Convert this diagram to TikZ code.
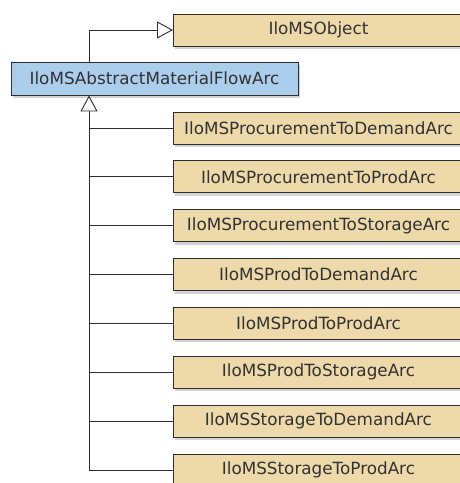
\documentclass[tikz,border=0pt]{standalone}
\usepackage{fontspec}
\setsansfont{DejaVu Sans}
\usetikzlibrary{arrows.meta,shadows}
\definecolor{classtan}{RGB}{237,217,170}
\definecolor{classblue}{RGB}{172,206,237}
\definecolor{linegray}{RGB}{45,45,45}
\definecolor{textgray}{RGB}{50,50,50}

\begin{document}
\begin{tikzpicture}[x=1pt,y=-1pt,
  classbox/.style={draw=linegray, line width=0.9pt, fill=classtan, minimum height=32pt,
    inner sep=0pt, text=textgray, font=\sffamily\fontsize{16.8}{18}\selectfont,
    drop shadow={opacity=0.35, shadow xshift=2pt, shadow yshift=-3pt}},
  childbox/.style={classbox, minimum width=290pt, anchor=west},
  link/.style={draw=linegray, line width=0.9pt},
  inherit/.style={link, -{Triangle[open, length=16pt, width=17pt, fill=white]}}]

\useasboundingbox (0,0) rectangle (459,483);

% base classes
\node[childbox] (obj) at (173,30) {IloMSObject};
\node[classbox, fill=classblue, minimum width=287pt, minimum height=33pt] (abs) at (154.5,78.5) {IloMSAbstractMaterialFlowArc};

% subclasses
\node[childbox] (pdem)  at (173,128)   {IloMSProcurementToDemandArc};
\node[childbox] (pprod) at (173,176.9) {IloMSProcurementToProdArc};
\node[childbox] (pstor) at (173,225.7) {IloMSProcurementToStorageArc};
\node[childbox] (rdem)  at (173,274.6) {IloMSProdToDemandArc};
\node[childbox] (rprod) at (173,323.4) {IloMSProdToProdArc};
\node[childbox] (rstor) at (173,372.3) {IloMSProdToStorageArc};
\node[childbox] (sdem)  at (173,421.1) {IloMSStorageToDemandArc};
\node[childbox] (sprod) at (173,470)   {IloMSStorageToProdArc};

% generalization links
\coordinate (trunk) at (89,470);
\draw[inherit] (abs.north -| trunk) |- (obj.west);
\draw[inherit] (trunk) -- (abs.south -| trunk);
\foreach \c in {pdem,pprod,pstor,rdem,rprod,rstor,sdem,sprod}
  \draw[link] (\c.west) -- (\c.west -| trunk);

\end{tikzpicture}
\end{document}
